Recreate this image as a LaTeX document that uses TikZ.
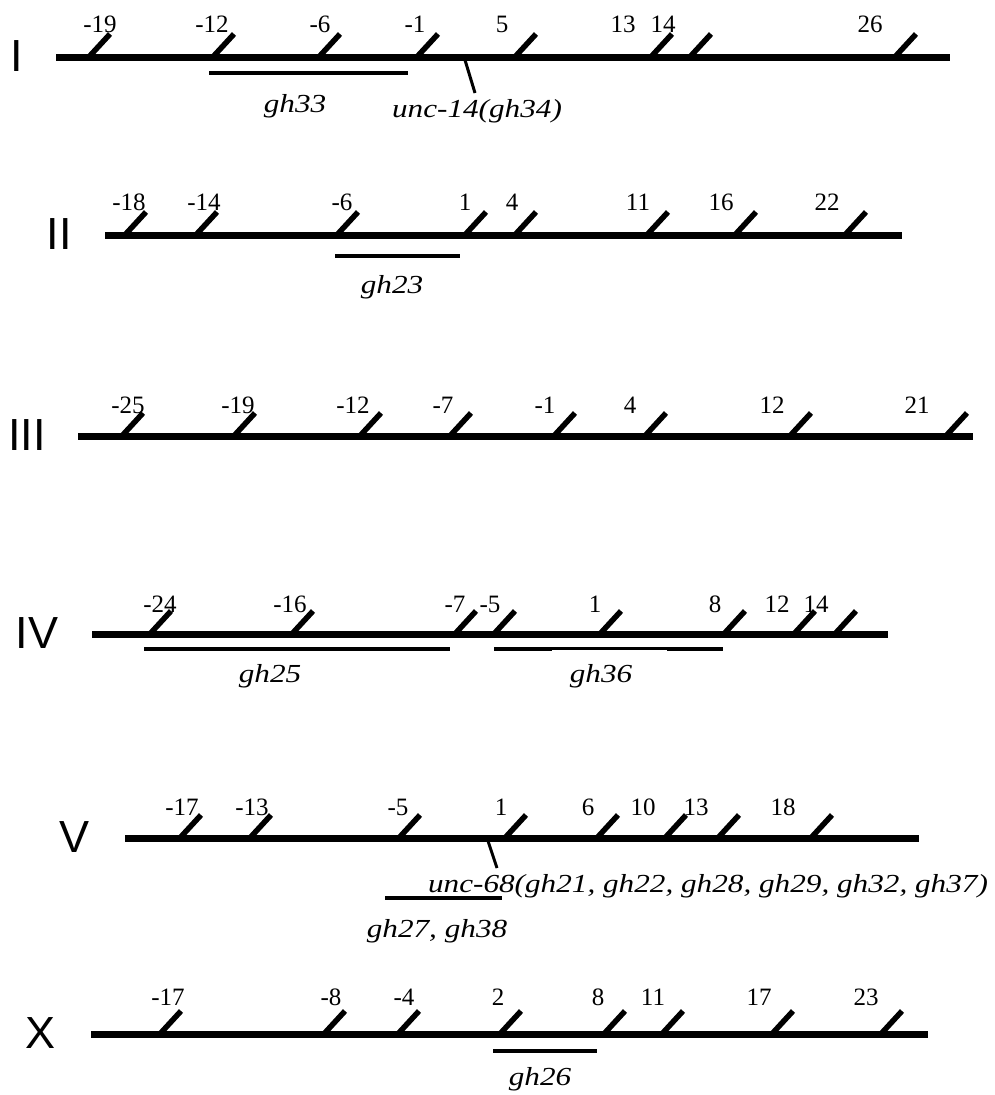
\documentclass[tikz,border=0pt]{standalone}
\usepackage{fontspec}
\setmainfont{Liberation Serif}
\newfontfamily\romfont{Liberation Sans}
\newfontfamily\genefont[FakeStretch=1.2]{Liberation Serif}
\usepackage{tikz}
\usetikzlibrary{positioning}
\tikzstyle{chrom} = [line width=7pt]
\tikzstyle{tick} = [line width=5.5pt]
\tikzstyle{interval} = [line width=4.5pt]
\tikzstyle{locus} = [line width=3pt]
\tikzstyle{num} = [anchor=base,inner sep=0pt,font=\fontsize{25}{25}\selectfont]
\tikzstyle{chrname} = [anchor=base,inner sep=0pt,font=\fontsize{45}{45}\romfont]
\tikzstyle{allele} = [anchor=base,inner sep=0pt,font=\fontsize{26}{26}\genefont\itshape]

\begin{document}
\begin{tikzpicture}[x=1pt,y=-1pt]
	\useasboundingbox (0,0) rectangle (995,1095);
	% Chromosome I
	\node [chrname] (I) at (17,71) {I};
	\draw [chrom] (56,57) -- (950,57);
	\foreach \x/\lx/\t in {87/100/-19,211/212/-12,317/320/-6,415/415/-1,513/502/5,649/623/13,688/663/14,893/870/26}{%
		\draw [tick] (\x,59) -- ++(23,-25);
		\node [num] (I\t) at (\lx,32) {\t};
	}
	\draw [interval] (209,73) -- (408,73);
	\node [allele] (gh33) at (295,112) {gh33};
	\draw [locus] (465,60) -- (475,93);
	\node [allele] (unc14) at (477,117) {unc-14(gh34)};
	% Chromosome II
	\node [chrname] (II) at (59,249) {II};
	\draw [chrom] (105,235) -- (902,235);
	\foreach \x/\lx/\t in {123/129/-18,194/204/-14,335/342/-6,463/465/1,513/512/4,645/638/11,733/721/16,843/827/22}{%
		\draw [tick] (\x,237) -- ++(23,-25);
		\node [num] (II\t) at (\lx,210) {\t};
	}
	\draw [interval] (335,256) -- (460,256);
	\node [allele] (gh23) at (392,293) {gh23};
	% Chromosome III
	\node [chrname] (III) at (27,450) {III};
	\draw [chrom] (78,436) -- (973,436);
	\foreach \x/\lx/\t in {120/128/-25,232/238/-19,358/353/-12,448/443/-7,552/545/-1,643/630/4,788/772/12,944/917/21}{%
		\draw [tick] (\x,438) -- ++(23,-25);
		\node [num] (III\t) at (\lx,413) {\t};
	}
	% Chromosome IV
	\node [chrname] (IV) at (37,648) {IV};
	\draw [chrom] (92,634) -- (888,634);
	\foreach \x/\lx/\t in {148/160/-24,290/290/-16,453/455/-7,492/490/-5,598/595/1,722/715/8,792/777/12,833/816/14}{%
		\draw [tick] (\x,636) -- ++(23,-25);
		\node [num] (IV\t) at (\lx,612) {\t};
	}
	\draw [interval] (144,649) -- (450,649);
	\node [allele] (gh25) at (270,682) {gh25};
	% gh36 bar is a bit thinner in its middle part
	\draw [interval] (494,649) -- (552,649) (667,649) -- (723,649);
	\draw [interval,line width=3.8pt] (552,648.5) -- (667,648.5);
	\node [allele] (gh36) at (601,682) {gh36};
	% Chromosome V
	\node [chrname] (V) at (75,852) {V};
	\draw [chrom] (125,838) -- (919,838);
	\foreach \x/\lx/\t in {178/182/-17,248/252/-13,397/398/-5,503/501/1,595/588/6,663/643/10,716/696/13,809/783/18}{%
		\draw [tick] (\x,840) -- ++(23,-25);
		\node [num] (V\t) at (\lx,815) {\t};
	}
	\draw [locus] (488,841) -- (497,868);
	\node [allele] (unc68) at (708,892) {unc-68(gh21, gh22, gh28, gh29, gh32, gh37)};
	\draw [interval] (385,898) -- (502,898);
	\node [allele] (gh27) at (437,937) {gh27, gh38};
	% Chromosome X
	\node [chrname] (X) at (41,1048) {X};
	\draw [chrom] (91,1034) -- (928,1034);
	\foreach \x/\lx/\t in {158/168/-17,322/331/-8,396/404/-4,498/498/2,602/598/8,660/653/11,770/759/17,879/866/23}{%
		\draw [tick] (\x,1036) -- ++(23,-25);
		\node [num] (X\t) at (\lx,1005) {\t};
	}
	\draw [interval] (493,1051) -- (597,1051);
	\node [allele] (gh26) at (540,1085) {gh26};
\end{tikzpicture}
\end{document}
